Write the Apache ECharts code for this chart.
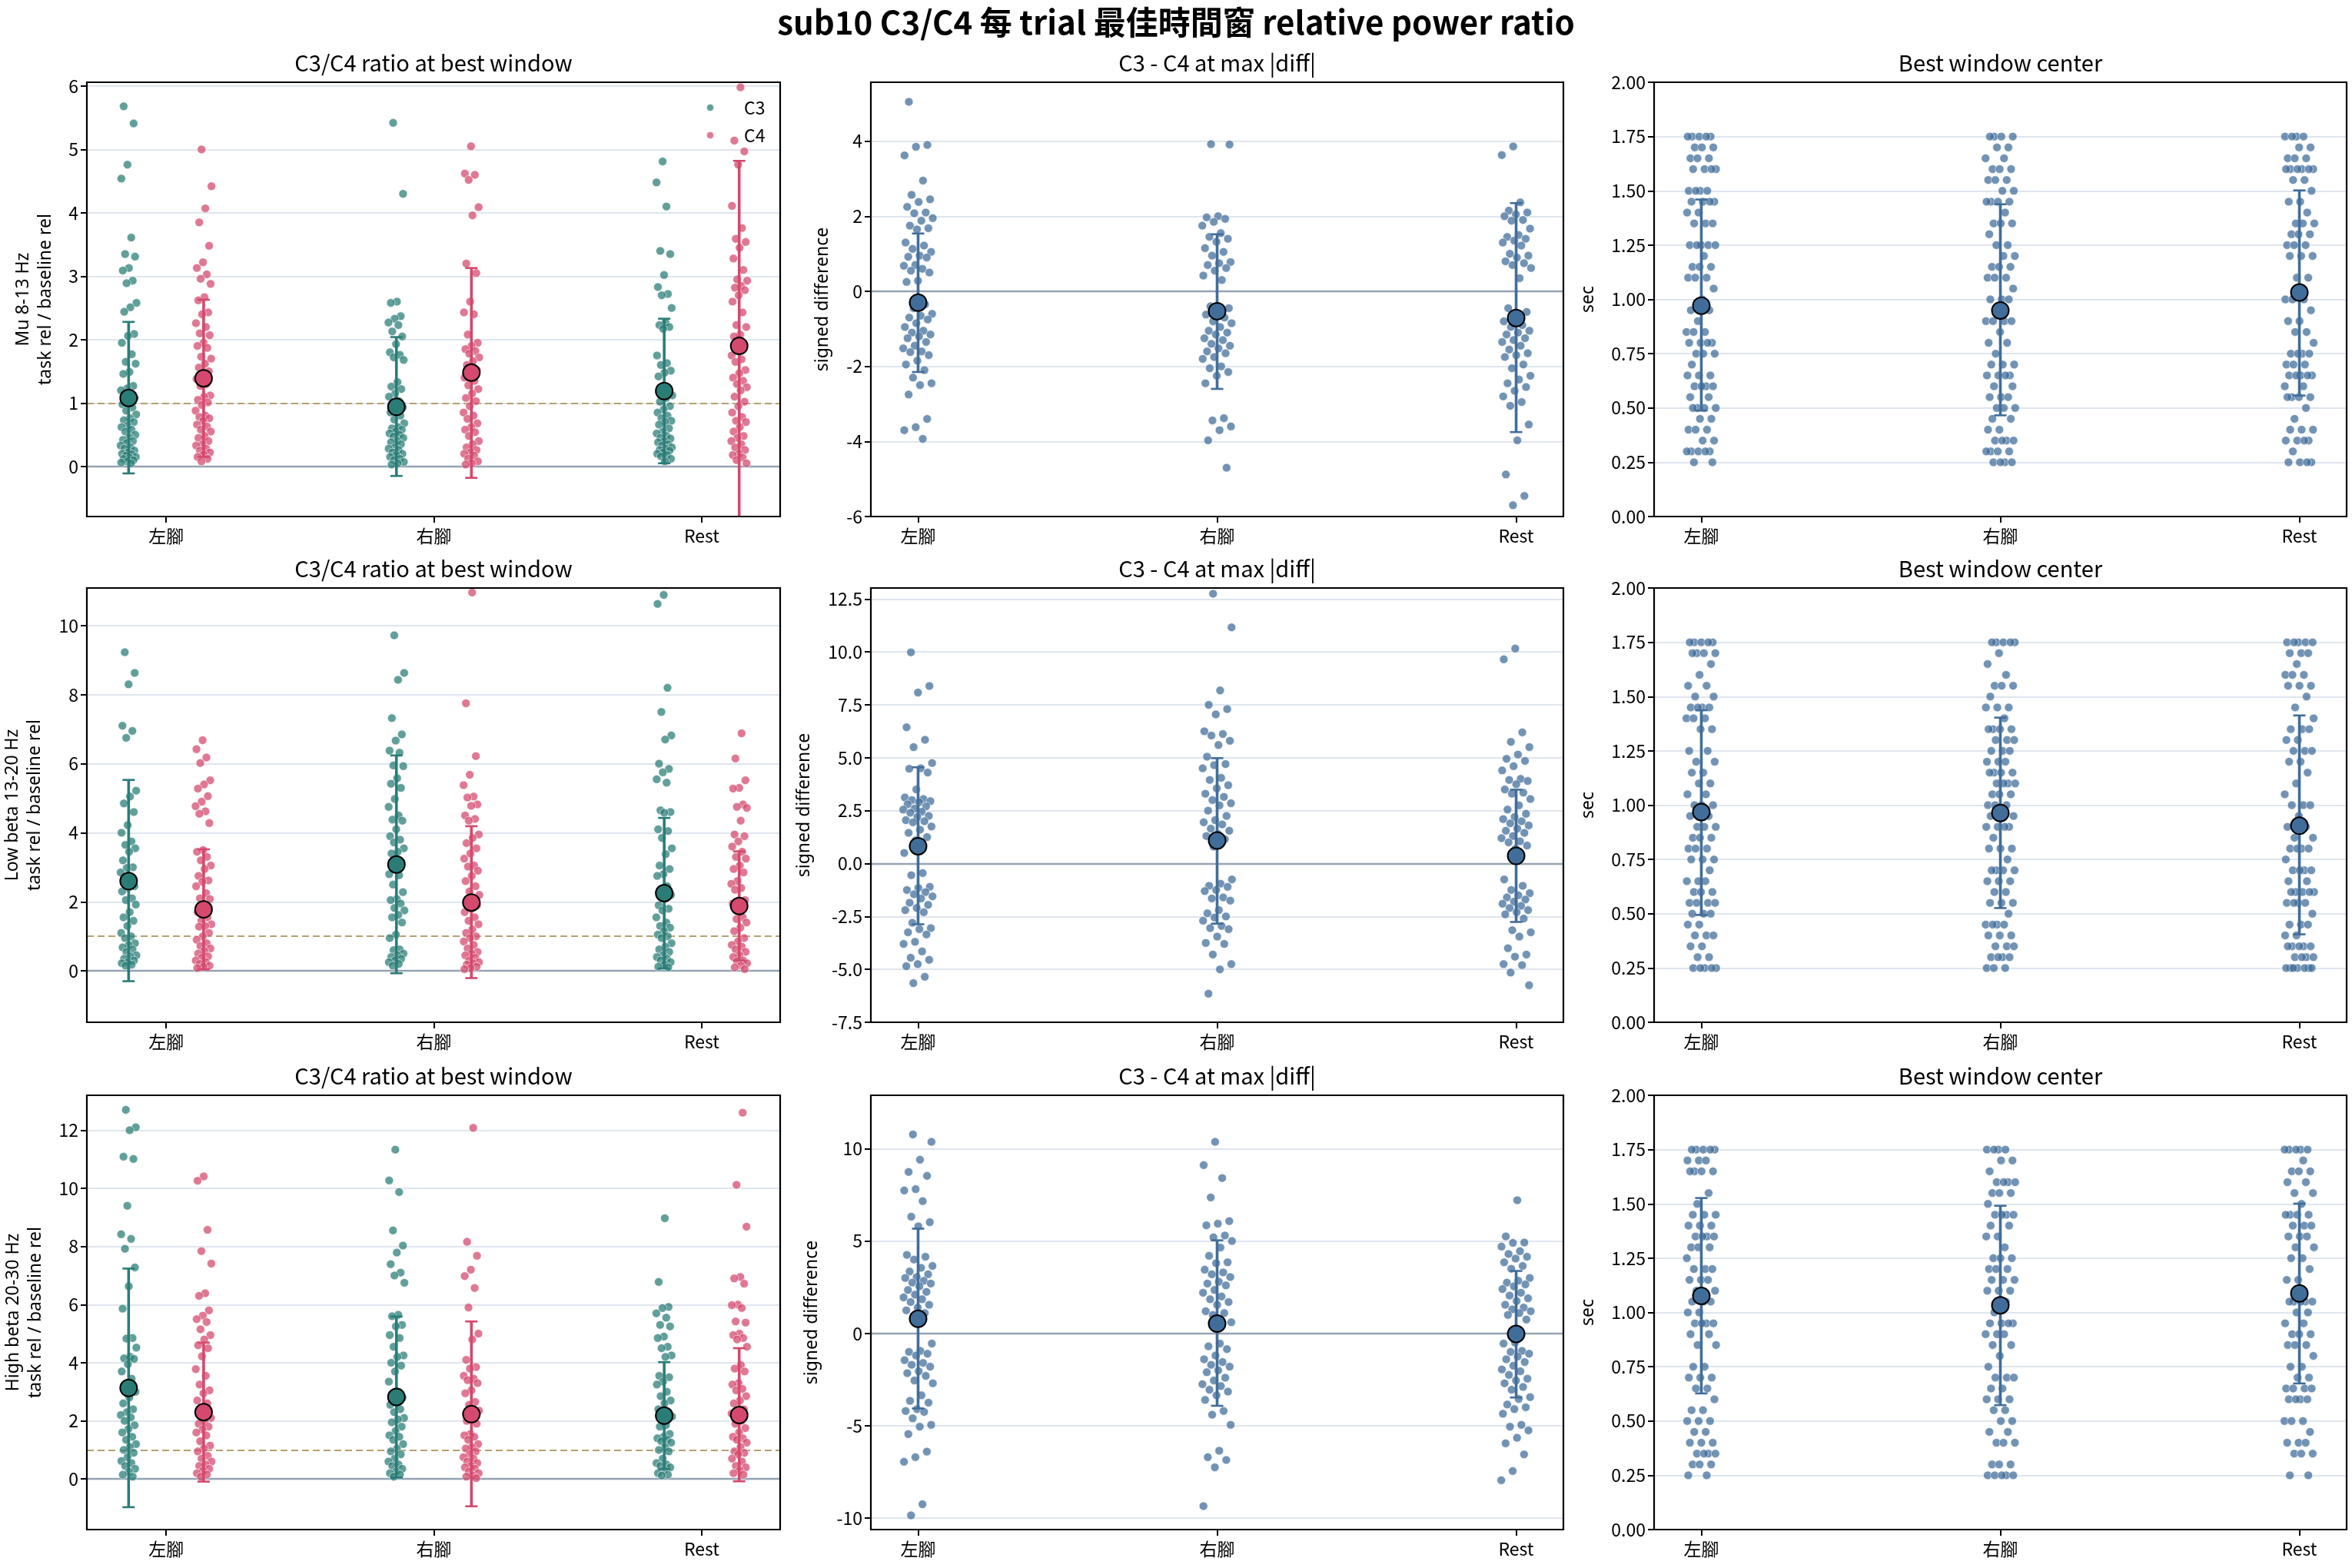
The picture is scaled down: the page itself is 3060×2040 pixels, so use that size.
<!DOCTYPE html>
<html>
<head>
<meta charset="utf-8">
<title>sub10 C3/C4</title>
<script src="https://cdn.jsdelivr.net/npm/echarts@6/dist/echarts.min.js"></script>
<style>
  html, body { margin: 0; padding: 0; background: #fff; }
  #chart { width: 3060px; height: 2040px; }
</style>
</head>
<body>
<div id="chart"></div>
<script>
// 類別與頻帶
const categories = ['左腳', '右腳', 'Rest'];
const bandLabels = ['Mu 8-13 Hz', 'Low beta 13-20 Hz', 'High beta 20-30 Hz'];

// ---- Mu 8-13 Hz：C3/C4 ratio ----
const muC3Left = [5.68,5.41,4.76,4.54,3.61,3.35,3.31,3.13,3.09,2.93,2.89,2.58,2.51,2.44,2.09,2.06,1.95,1.77,1.65,1.62,1.49,1.46,1.27,1.23,1.20,1.15,1.12,1.08,1.02,0.98,0.93,0.88,0.82,0.76,0.73,0.70,0.64,0.62,0.58,0.55,0.50,0.46,0.42,0.40,0.37,0.33,0.30,0.28,0.25,0.22,0.20,0.19,0.17,0.15,0.14,0.12,0.10,0.08,0.06,0.05];
const muC4Left = [5.00,4.42,4.07,3.85,3.48,3.22,3.13,3.03,2.96,2.88,2.67,2.62,2.43,2.40,2.26,2.20,2.10,2.07,1.95,1.90,1.87,1.73,1.70,1.62,1.56,1.50,1.45,1.38,1.30,1.27,1.12,1.10,1.05,1.01,0.97,0.88,0.80,0.78,0.76,0.72,0.66,0.63,0.58,0.55,0.48,0.45,0.40,0.35,0.33,0.28,0.25,0.22,0.19,0.15,0.12,0.08];
const muC3Right = [5.42,4.30,2.60,2.58,2.37,2.33,2.27,2.23,2.13,2.05,1.93,1.80,1.76,1.72,1.68,1.33,1.26,1.22,1.15,1.10,1.03,0.98,0.93,0.90,0.85,0.80,0.74,0.68,0.62,0.60,0.58,0.55,0.52,0.50,0.47,0.45,0.40,0.38,0.35,0.30,0.28,0.26,0.22,0.20,0.18,0.15,0.12,0.10,0.07,0.05,0.03];
const muC4Right = [5.05,4.62,4.60,4.52,4.09,3.96,3.20,3.05,2.60,2.43,2.40,2.08,1.95,1.90,1.85,1.82,1.78,1.72,1.66,1.60,1.52,1.47,1.40,1.35,1.28,1.22,1.15,1.08,1.03,0.95,0.85,0.80,0.75,0.68,0.62,0.58,0.54,0.48,0.40,0.35,0.30,0.26,0.22,0.20,0.17,0.12,0.08,0.05,0.03];
const muC3Rest = [4.81,4.48,4.10,3.40,3.35,3.02,2.83,2.72,2.70,2.50,2.27,2.23,2.20,2.17,1.75,1.63,1.60,1.51,1.48,1.42,1.22,1.18,1.12,1.08,1.02,0.95,0.90,0.85,0.80,0.76,0.72,0.70,0.66,0.60,0.55,0.52,0.48,0.45,0.44,0.40,0.38,0.35,0.33,0.30,0.28,0.26,0.25,0.22,0.20,0.18,0.16,0.12,0.08];
const muC4Rest = [5.98,5.14,4.97,4.76,4.11,3.76,3.59,3.54,3.45,3.28,3.10,2.95,2.93,2.85,2.82,2.78,2.70,2.60,2.43,2.23,2.20,2.08,2.05,1.93,1.88,1.75,1.69,1.65,1.52,1.47,1.40,1.35,1.30,1.25,1.20,1.10,1.02,0.95,0.85,0.78,0.72,0.70,0.62,0.55,0.48,0.45,0.40,0.35,0.30,0.26,0.20,0.18,0.14,0.10,0.05];

// ---- Low beta 13-20 Hz：C3/C4 ratio ----
const lbC3Left = [9.23,8.63,8.30,7.10,6.95,6.75,5.22,5.05,4.85,4.60,4.22,4.00,3.75,3.65,3.55,3.45,3.20,3.00,2.98,2.85,2.65,2.58,2.45,2.40,2.30,2.10,2.05,1.92,1.70,1.55,1.45,1.30,1.10,1.00,0.95,0.80,0.75,0.68,0.62,0.55,0.45,0.42,0.35,0.30,0.25,0.22,0.18,0.15];
const lbC4Left = [6.68,6.42,6.18,6.02,5.52,5.40,5.28,5.06,4.90,4.77,4.62,4.55,4.28,3.50,3.45,3.30,3.20,3.05,2.95,2.75,2.62,2.58,2.45,2.25,2.10,2.08,1.95,1.70,1.55,1.45,1.35,1.30,1.28,1.10,1.00,0.90,0.80,0.72,0.65,0.58,0.50,0.42,0.38,0.30,0.25,0.20,0.15,0.12,0.08];
const lbC3Right = [9.72,8.63,8.43,7.32,6.85,6.67,6.38,6.32,5.95,5.93,5.58,5.42,5.30,4.98,4.75,4.50,4.38,4.35,4.10,3.90,3.80,3.72,3.55,3.45,3.40,3.15,3.00,2.80,2.77,2.50,2.28,2.08,2.05,1.95,1.82,1.75,1.62,1.55,1.40,1.05,0.95,0.62,0.60,0.50,0.45,0.40,0.35,0.30,0.25,0.20,0.15];
const lbC4Right = [10.96,7.75,6.22,5.68,5.38,5.05,5.02,4.82,4.78,4.50,4.40,4.35,3.95,3.85,3.70,3.55,3.40,3.25,3.05,3.02,2.90,2.75,2.60,2.45,2.30,2.20,2.10,2.00,1.90,1.80,1.70,1.55,1.45,1.35,1.20,1.10,1.00,0.95,0.85,0.75,0.65,0.55,0.50,0.45,0.38,0.30,0.25,0.22,0.18,0.12,0.08,0.05];
const lbC3Rest = [10.89,10.63,8.20,7.50,6.82,6.70,6.00,5.85,5.75,5.55,5.45,4.65,4.60,4.58,4.10,4.05,3.85,3.55,3.38,3.05,2.95,2.80,2.75,2.45,2.35,2.20,2.10,1.90,1.80,1.75,1.55,1.40,1.30,1.25,1.15,1.05,1.00,0.95,0.80,0.70,0.62,0.55,0.45,0.40,0.35,0.30,0.25,0.18,0.12,0.10];
const lbC4Rest = [6.88,6.15,5.52,5.30,5.28,4.82,4.75,4.72,4.35,3.95,3.90,3.75,3.60,3.45,3.30,3.25,3.05,2.95,2.85,2.60,2.52,2.40,2.35,2.05,2.00,1.95,1.55,1.50,1.40,1.25,1.15,0.95,0.85,0.75,0.70,0.62,0.55,0.45,0.40,0.30,0.28,0.22,0.15,0.10,0.05];

// ---- High beta 20-30 Hz：C3/C4 ratio ----
const hbC3Left = [12.70,12.10,12.00,11.09,11.01,9.40,8.42,8.26,7.92,7.28,6.63,5.86,4.85,4.83,4.52,4.20,4.15,4.13,3.95,3.70,3.45,3.20,3.00,2.80,2.60,2.40,2.30,2.20,2.12,2.00,1.85,1.72,1.60,1.45,1.35,1.20,1.10,1.00,0.90,0.75,0.62,0.55,0.45,0.35,0.25,0.15,0.08];
const hbC4Left = [10.41,10.26,8.57,7.84,7.41,6.39,6.30,5.80,5.62,5.50,5.40,5.15,4.95,4.80,4.60,4.50,4.22,3.78,3.55,3.25,3.05,2.95,2.70,2.60,2.25,2.10,2.00,1.90,1.80,1.70,1.60,1.50,1.30,1.15,1.05,0.95,0.80,0.70,0.60,0.50,0.45,0.35,0.28,0.20,0.15,0.08];
const hbC3Right = [11.33,10.27,9.87,8.55,8.03,7.79,7.39,7.10,7.00,6.75,5.65,5.60,5.30,5.25,4.95,4.85,4.55,4.25,4.20,4.00,3.90,3.70,3.35,3.00,2.85,2.80,2.65,2.55,2.40,2.30,2.10,2.05,1.95,1.80,1.65,1.50,1.45,1.35,1.20,1.05,0.95,0.85,0.70,0.60,0.50,0.45,0.35,0.25,0.20,0.15,0.08];
const hbC4Right = [12.08,8.16,7.68,7.20,6.98,6.57,5.90,5.00,4.80,4.10,3.85,3.80,3.55,3.45,3.40,3.30,3.05,2.95,2.65,2.55,2.35,2.25,2.00,1.90,1.55,1.50,1.45,1.35,1.20,1.10,1.05,0.95,0.85,0.75,0.70,0.60,0.55,0.45,0.40,0.35,0.25,0.20,0.12,0.08,0.03];
const hbC3Rest = [8.97,6.78,5.92,5.88,5.70,5.55,5.30,5.25,4.90,4.85,4.55,4.50,4.25,4.20,3.55,3.50,3.35,3.25,3.00,2.85,2.70,2.60,2.40,2.30,2.20,2.15,1.85,1.80,1.55,1.45,1.40,1.35,1.30,1.25,1.10,1.00,0.95,0.70,0.55,0.50,0.45,0.40,0.30,0.20,0.15,0.12];
const hbC4Rest = [12.60,10.12,8.68,6.95,6.90,6.72,6.00,5.98,5.88,5.42,5.38,5.00,4.95,4.85,4.80,4.55,3.92,3.80,3.70,3.30,3.25,3.10,3.05,2.85,2.70,2.60,2.40,2.30,2.25,2.00,1.90,1.75,1.60,1.45,1.40,1.35,1.25,1.10,0.95,0.90,0.85,0.70,0.60,0.45,0.40,0.30,0.20,0.15];

// ---- C3 - C4 signed difference ----
const diffMuLeft = [5.05,3.90,3.85,3.62,2.95,2.57,2.45,2.38,2.25,2.10,2.08,1.95,1.88,1.75,1.68,1.65,1.30,1.22,1.13,1.05,0.95,0.92,0.90,0.70,0.68,0.60,0.55,0.50,0.28,0.25,-0.35,-0.45,-0.60,-0.65,-0.70,-0.75,-0.85,-0.95,-1.05,-1.10,-1.15,-1.20,-1.25,-1.35,-1.45,-1.52,-1.60,-1.62,-1.70,-1.85,-1.95,-2.10,-2.30,-2.45,-2.50,-2.75,-3.40,-3.62,-3.70,-3.93];
const diffMuRight = [3.92,3.91,2.00,1.97,1.93,1.85,1.75,1.55,1.45,1.40,1.32,1.15,1.05,0.95,0.78,0.75,0.70,0.62,0.55,0.42,0.30,-0.40,-0.45,-0.55,-0.62,-0.70,-0.80,-0.85,-0.95,-1.05,-1.10,-1.15,-1.25,-1.30,-1.40,-1.45,-1.52,-1.60,-1.65,-1.75,-1.80,-2.00,-2.05,-2.15,-2.25,-2.45,-3.38,-3.44,-3.60,-3.70,-3.97,-4.70];
const diffMuRest = [3.86,3.63,2.37,2.15,2.10,2.05,2.00,1.90,1.88,1.67,1.50,1.45,1.40,1.35,1.30,1.22,1.00,0.95,0.90,0.80,0.75,0.70,0.62,0.35,-0.45,-0.55,-0.65,-0.80,-0.90,-0.95,-1.05,-1.10,-1.15,-1.25,-1.30,-1.35,-1.45,-1.55,-1.65,-1.70,-1.75,-1.95,-2.05,-2.25,-2.35,-2.45,-2.55,-2.65,-2.80,-2.95,-3.05,-3.55,-3.97,-4.88,-5.45,-5.70];
const diffLbLeft = [9.98,8.39,8.08,6.44,5.85,5.50,4.75,4.50,4.48,4.30,3.50,3.12,3.05,3.00,2.95,2.90,2.80,2.70,2.60,2.55,2.45,2.40,2.25,2.20,2.05,2.00,1.95,1.75,1.60,1.45,1.25,1.10,0.50,-0.45,-0.55,-1.10,-1.15,-1.25,-1.35,-1.45,-1.55,-1.65,-1.85,-1.95,-2.10,-2.20,-2.30,-2.80,-3.05,-3.10,-3.25,-3.35,-3.70,-3.80,-4.15,-4.45,-4.55,-4.75,-4.85,-5.35,-5.65];
const diffLbRight = [12.75,11.16,8.18,7.50,7.30,7.05,6.25,6.12,6.05,5.80,5.60,5.05,4.70,4.65,4.50,4.05,3.95,3.70,3.55,3.30,3.15,3.00,2.85,2.75,2.50,2.25,2.05,1.95,1.85,1.65,1.55,1.40,1.30,1.15,0.80,-0.75,-0.95,-1.05,-1.10,-1.25,-1.30,-1.60,-1.65,-1.75,-2.20,-2.35,-2.50,-2.55,-2.70,-2.95,-3.05,-3.10,-3.45,-3.75,-3.80,-4.30,-4.75,-5.00,-6.15,-7.55];
const diffLbRest = [10.16,9.65,6.20,5.75,5.50,5.15,4.95,4.85,4.60,4.40,4.00,3.95,3.90,3.75,3.50,3.35,3.30,3.05,2.75,2.55,2.35,2.20,2.10,2.00,1.90,1.80,1.65,1.55,1.45,1.30,1.20,1.05,1.00,0.85,0.70,-0.75,-1.05,-1.25,-1.40,-1.50,-1.60,-1.70,-1.80,-1.90,-2.00,-2.10,-2.20,-2.30,-2.40,-2.60,-3.15,-3.25,-3.45,-4.00,-4.30,-4.40,-4.75,-4.80,-5.15,-5.75];
const diffHbLeft = [10.77,10.37,9.40,8.74,8.53,7.81,7.74,7.16,6.32,6.02,5.80,4.25,4.15,4.00,3.65,3.55,3.35,3.20,3.05,3.00,2.85,2.75,2.70,2.55,2.35,2.25,2.10,1.95,1.85,1.70,1.55,1.40,1.25,1.10,0.80,-0.55,-0.95,-1.00,-1.10,-1.20,-1.45,-1.60,-1.70,-1.80,-2.05,-2.15,-2.30,-2.55,-2.70,-3.35,-3.65,-3.75,-4.10,-4.20,-4.25,-4.60,-4.95,-5.05,-5.45,-6.40,-6.70,-6.95,-9.25,-9.85];
const diffHbRight = [10.37,9.11,8.41,7.36,6.08,5.94,5.85,5.30,5.20,5.00,4.65,4.20,3.85,3.80,3.45,3.30,3.20,3.05,2.80,2.70,2.60,2.35,2.20,2.00,1.85,1.70,1.55,1.20,1.10,1.00,0.60,-0.55,-0.70,-0.85,-1.20,-1.40,-1.55,-1.70,-1.80,-2.00,-2.10,-2.40,-2.55,-2.75,-2.85,-3.05,-3.15,-3.35,-3.60,-4.20,-4.40,-4.95,-6.35,-6.70,-6.85,-7.25,-9.35];
const diffHbRest = [7.21,5.25,4.92,4.90,4.70,4.45,4.30,4.15,4.05,3.85,3.65,3.50,3.00,2.85,2.75,2.65,2.55,2.40,2.20,2.05,1.90,1.75,1.55,1.40,1.30,1.20,1.10,1.00,0.75,-0.50,-0.55,-0.95,-1.00,-1.10,-1.25,-1.40,-1.55,-1.75,-1.95,-2.05,-2.25,-2.45,-2.55,-2.70,-2.90,-3.05,-3.45,-3.55,-3.85,-4.00,-4.10,-4.35,-4.95,-5.05,-5.25,-5.65,-5.95,-6.55,-7.45,-7.95];

// ---- Best window center (sec) ----
const winMuLeft = [1.75,1.75,1.75,1.75,1.75,1.7,1.7,1.7,1.65,1.65,1.65,1.6,1.6,1.6,1.6,1.5,1.5,1.5,1.5,1.45,1.45,1.45,1.45,1.4,1.4,1.35,1.35,1.35,1.25,1.25,1.25,1.25,1.25,1.2,1.15,1.15,1.15,1.1,1.1,1.1,1.05,1.0,0.95,0.95,0.9,0.85,0.85,0.85,0.8,0.8,0.8,0.8,0.75,0.75,0.75,0.7,0.65,0.65,0.65,0.6,0.6,0.6,0.6,0.55,0.55,0.5,0.5,0.5,0.5,0.45,0.45,0.4,0.4,0.4,0.35,0.35,0.3,0.3,0.3,0.3,0.3,0.25,0.25];
const winMuRight = [1.75,1.75,1.75,1.75,1.7,1.7,1.65,1.65,1.6,1.6,1.6,1.55,1.55,1.55,1.5,1.5,1.45,1.45,1.45,1.45,1.4,1.35,1.35,1.35,1.3,1.25,1.25,1.2,1.2,1.15,1.15,1.15,1.1,1.1,1.1,1.05,1.0,1.0,1.0,0.95,0.9,0.9,0.9,0.9,0.85,0.8,0.8,0.75,0.7,0.7,0.7,0.65,0.65,0.65,0.65,0.6,0.6,0.55,0.55,0.55,0.5,0.5,0.5,0.45,0.45,0.4,0.4,0.35,0.35,0.35,0.35,0.3,0.3,0.3,0.3,0.25,0.25,0.25,0.25];
const winMuRest = [1.75,1.75,1.75,1.75,1.7,1.7,1.65,1.65,1.65,1.6,1.6,1.6,1.6,1.6,1.6,1.55,1.55,1.5,1.45,1.45,1.4,1.35,1.35,1.35,1.3,1.3,1.3,1.25,1.25,1.25,1.2,1.2,1.2,1.1,1.1,1.0,1.0,1.0,0.95,0.9,0.9,0.85,0.85,0.8,0.75,0.75,0.75,0.75,0.7,0.7,0.7,0.65,0.65,0.65,0.65,0.65,0.6,0.6,0.55,0.55,0.55,0.55,0.5,0.45,0.4,0.4,0.4,0.35,0.35,0.35,0.35,0.3,0.25,0.25,0.25,0.25];
const winLbLeft = [1.75,1.75,1.75,1.75,1.75,1.7,1.7,1.7,1.7,1.65,1.6,1.55,1.55,1.5,1.5,1.45,1.45,1.45,1.45,1.4,1.4,1.4,1.35,1.35,1.25,1.25,1.2,1.2,1.15,1.15,1.1,1.1,1.05,1.05,1.0,1.0,1.0,0.95,0.95,0.9,0.9,0.9,0.85,0.85,0.85,0.8,0.8,0.8,0.75,0.75,0.75,0.7,0.65,0.65,0.65,0.6,0.6,0.6,0.55,0.55,0.55,0.55,0.5,0.5,0.5,0.45,0.45,0.4,0.4,0.4,0.35,0.35,0.3,0.3,0.25,0.25,0.25,0.25,0.25];
const winLbRight = [1.75,1.75,1.75,1.75,1.75,1.7,1.65,1.6,1.55,1.55,1.55,1.5,1.45,1.45,1.45,1.4,1.35,1.35,1.35,1.35,1.3,1.3,1.3,1.25,1.25,1.25,1.2,1.2,1.2,1.15,1.15,1.15,1.15,1.1,1.1,1.1,1.1,1.05,1.05,1.05,1.0,1.0,1.0,0.95,0.95,0.95,0.9,0.9,0.9,0.9,0.85,0.8,0.8,0.8,0.75,0.7,0.7,0.7,0.7,0.65,0.65,0.65,0.6,0.6,0.55,0.55,0.55,0.5,0.45,0.45,0.45,0.45,0.4,0.4,0.4,0.35,0.35,0.35,0.3,0.3,0.3,0.3,0.25,0.25,0.25];
const winLbRest = [1.75,1.75,1.75,1.75,1.75,1.7,1.7,1.7,1.65,1.6,1.6,1.6,1.55,1.55,1.55,1.5,1.45,1.4,1.35,1.35,1.35,1.3,1.3,1.25,1.25,1.25,1.2,1.2,1.15,1.1,1.05,1.0,1.0,1.0,0.95,0.9,0.9,0.85,0.85,0.8,0.8,0.8,0.8,0.75,0.7,0.7,0.7,0.7,0.65,0.65,0.6,0.6,0.6,0.6,0.6,0.55,0.55,0.55,0.55,0.5,0.45,0.45,0.45,0.4,0.4,0.35,0.35,0.35,0.35,0.35,0.3,0.3,0.3,0.3,0.25,0.25,0.25,0.25,0.25,0.25,0.25];
const winHbLeft = [1.75,1.75,1.75,1.75,1.75,1.7,1.7,1.7,1.65,1.65,1.65,1.65,1.55,1.5,1.45,1.45,1.45,1.4,1.4,1.4,1.35,1.35,1.35,1.35,1.3,1.3,1.3,1.25,1.2,1.2,1.2,1.15,1.15,1.15,1.1,1.1,1.05,1.05,1.05,1.0,1.0,0.95,0.95,0.95,0.95,0.9,0.9,0.85,0.85,0.75,0.75,0.7,0.7,0.7,0.65,0.65,0.6,0.55,0.55,0.5,0.5,0.5,0.45,0.45,0.4,0.4,0.4,0.35,0.35,0.35,0.35,0.3,0.3,0.3,0.25,0.25];
const winHbRight = [1.75,1.75,1.75,1.75,1.7,1.7,1.65,1.6,1.6,1.6,1.6,1.55,1.55,1.55,1.5,1.45,1.45,1.45,1.45,1.4,1.4,1.35,1.35,1.3,1.25,1.25,1.25,1.2,1.2,1.2,1.15,1.15,1.15,1.1,1.1,1.1,1.05,1.0,0.95,0.95,0.95,0.95,0.9,0.9,0.9,0.85,0.85,0.8,0.75,0.7,0.7,0.7,0.65,0.65,0.6,0.6,0.6,0.55,0.55,0.5,0.5,0.45,0.45,0.4,0.4,0.4,0.3,0.3,0.3,0.25,0.25,0.25,0.25,0.25];
const winHbRest = [1.75,1.75,1.75,1.75,1.75,1.7,1.65,1.65,1.65,1.6,1.6,1.55,1.55,1.5,1.45,1.45,1.45,1.45,1.4,1.4,1.4,1.35,1.35,1.35,1.3,1.3,1.25,1.25,1.2,1.15,1.15,1.05,1.05,1.05,1.05,1.05,1.0,1.0,0.95,0.95,0.9,0.9,0.9,0.85,0.85,0.85,0.8,0.75,0.75,0.7,0.7,0.65,0.65,0.65,0.65,0.6,0.6,0.6,0.6,0.5,0.5,0.5,0.45,0.4,0.4,0.4,0.35,0.35,0.35,0.25,0.25];

// 平均與 ±SD (列 = 頻帶, 欄 = 類別)
const ratioMeanC3 = [[1.08,0.94,1.19],[2.60,3.08,2.25],[3.13,2.82,2.18]];
const ratioLowC3  = [[-0.11,-0.15,0.05],[-0.30,-0.07,0.07],[-0.97,0.05,0.34]];
const ratioHighC3 = [[2.28,2.04,2.33],[5.53,6.24,4.43],[7.24,5.59,4.02]];
const ratioMeanC4 = [[1.39,1.48,1.90],[1.78,1.98,1.88],[2.30,2.23,2.20]];
const ratioLowC4  = [[0.15,-0.18,-1.02],[0.04,-0.21,0.30],[-0.09,-0.94,-0.08]];
const ratioHighC4 = [[2.63,3.13,4.82],[3.52,4.19,3.46],[4.69,5.42,4.50]];
const diffMean = [[-0.30,-0.53,-0.71],[0.82,1.09,0.36],[0.79,0.53,-0.03]];
const diffLow  = [[-2.15,-2.60,-3.75],[-2.87,-2.84,-2.76],[-4.06,-3.92,-3.47]];
const diffHigh = [[1.54,1.52,2.35],[4.55,4.98,3.49],[5.67,5.04,3.38]];
const winMean = [[0.971,0.949,1.032],[0.968,0.964,0.905],[1.076,1.033,1.088]];
const winLow  = [[0.488,0.466,0.557],[0.494,0.526,0.405],[0.627,0.573,0.673]];
const winHigh = [[1.460,1.438,1.502],[1.437,1.403,1.413],[1.527,1.491,1.501]];

// 刻度
const ratioTicks = [[0,1,2,3,4,5,6],[0,2,4,6,8,10],[0,2,4,6,8,10,12]];
const diffTicks = [[-6,-4,-2,0,2,4],[-7.5,-5,-2.5,0,2.5,5,7.5,10,12.5],[-10,-5,0,5,10]];
const winTicks = [0,0.25,0.5,0.75,1,1.25,1.5,1.75,2];

const ratioC3 = [[muC3Left,muC3Right,muC3Rest],[lbC3Left,lbC3Right,lbC3Rest],[hbC3Left,hbC3Right,hbC3Rest]];
const ratioC4 = [[muC4Left,muC4Right,muC4Rest],[lbC4Left,lbC4Right,lbC4Rest],[hbC4Left,hbC4Right,hbC4Rest]];
const diffData = [[diffMuLeft,diffMuRight,diffMuRest],[diffLbLeft,diffLbRight,diffLbRest],[diffHbLeft,diffHbRight,diffHbRest]];
const winData = [[winMuLeft,winMuRight,winMuRest],[winLbLeft,winLbRight,winLbRest],[winHbLeft,winHbRight,winHbRest]];

// ---- 版面 ----
const colorC3 = '#2a7d77', colorC4 = '#d4496d', colorBlue = '#416d9a';
const CJK = '"Noto Sans CJK TC", "Noto Sans CJK SC", sans-serif';
const gridLeft = [113, 1133, 2152];
const gridWidth = [902, 901, 901];
const gridTop = [107, 765, 1425];
const gridHeight = 565;
const xRange = [[-0.296, 2.293], [-0.158, 2.158], [-0.158, 2.158]];
const ratioRange = [[-0.79, 6.06], [-1.49, 11.09], [-1.74, 13.2]];
const diffRange = [[-6, 5.57], [-7.5, 13.02], [-10.62, 12.89]];
const ratioSplit = [7, 6, 7];
const diffInterval = [2, 2.5, null];
const ylabelX = [[45, 1070, 2066], [31, 1046, 2066], [32, 1056, 2066]];
const titles = ['C3/C4 ratio at best window', 'C3 - C4 at max |diff|', 'Best window center'];

function jitter(i, seed, w) {
  const f = ((i + seed) * 0.6180339887) % 1;
  return (2 * f - 1) * w;
}

function errRender(params, api) {
  const x = api.value(0);
  const a = api.coord([x, api.value(1)]);
  const b = api.coord([x, api.value(2)]);
  const c = api.visual('color');
  const cap = 8;
  return {
    type: 'group',
    children: [
      { type: 'line', shape: { x1: a[0], y1: a[1], x2: b[0], y2: b[1] }, style: { stroke: c, lineWidth: 3.6 } },
      { type: 'line', shape: { x1: a[0] - cap, y1: a[1], x2: a[0] + cap, y2: a[1] }, style: { stroke: c, lineWidth: 2.6 } },
      { type: 'line', shape: { x1: b[0] - cap, y1: b[1], x2: b[0] + cap, y2: b[1] }, style: { stroke: c, lineWidth: 2.6 } }
    ]
  };
}

function nearTick(v, ticks) {
  return ticks.find(t => Math.abs(t - v) < 1e-6);
}

const grids = [], xAxes = [], yAxes = [], series = [], graphics = [];

for (let r = 0; r < 3; r++) {
  for (let c = 0; c < 3; c++) {
    const idx = r * 3 + c;
    grids.push({
      left: gridLeft[c], top: gridTop[r], width: gridWidth[c], height: gridHeight,
      containLabel: false, outerBoundsMode: 'none', show: false
    });
    xAxes.push({
      gridIndex: idx, type: 'value', min: xRange[c][0], max: xRange[c][1], splitNumber: 3,
      splitLine: { show: false }, axisLine: { show: false, onZero: false },
      axisTick: { show: true, length: 8, lineStyle: { color: '#000', width: 2 }, customValues: [0, 1, 2] },
      axisLabel: {
        customValues: [0, 1, 2], margin: 14, fontSize: 23, color: '#000', fontFamily: CJK,
        formatter: v => { const t = nearTick(v, [0, 1, 2]); return t === undefined ? '' : categories[t]; }
      }
    });

    let ticks, range, decimals, yOpt = {};
    if (c === 0) {
      ticks = ratioTicks[r]; range = ratioRange[r]; decimals = 0; yOpt.splitNumber = ratioSplit[r];
    } else if (c === 1) {
      ticks = diffTicks[r]; range = diffRange[r]; decimals = r === 1 ? 1 : 0;
      if (diffInterval[r]) yOpt.interval = diffInterval[r]; else yOpt.splitNumber = 5;
    } else {
      ticks = winTicks; range = [0, 2]; decimals = 2; yOpt.interval = 0.25;
    }
    yAxes.push(Object.assign({
      gridIndex: idx, type: 'value', min: range[0], max: range[1],
      splitLine: { show: false }, axisLine: { show: false, onZero: false },
      axisTick: { show: true, length: 8, lineStyle: { color: '#000', width: 2 }, customValues: ticks },
      axisLabel: {
        customValues: ticks, margin: 11, fontSize: 23, color: '#000', fontFamily: CJK,
        formatter: v => { const t = nearTick(v, ticks); return t === undefined ? '' : t.toFixed(decimals); }
      }
    }, yOpt));

    // 格線與參考線
    const mlData = ticks.map(t => ({ yAxis: t, lineStyle: { color: '#dfe5ee', width: 1.8, type: 'solid' } }));
    if (c < 2) mlData.push({ yAxis: 0, lineStyle: { color: '#94a3b4', width: 2.4, type: 'solid' } });
    if (c === 0) mlData.push({ yAxis: 1, lineStyle: { color: '#b5a06f', width: 2, type: [9, 5] } });
    const markLine = { silent: true, symbol: ['none', 'none'], label: { show: false }, z: 1, animation: false, data: mlData };

    const groups = c === 0
      ? [
          { name: 'C3', color: colorC3, data: ratioC3[r], mean: ratioMeanC3[r], lo: ratioLowC3[r], hi: ratioHighC3[r], dodge: -0.14 },
          { name: 'C4', color: colorC4, data: ratioC4[r], mean: ratioMeanC4[r], lo: ratioLowC4[r], hi: ratioHighC4[r], dodge: 0.14 }
        ]
      : c === 1
        ? [{ name: 'diff', color: colorBlue, data: diffData[r], mean: diffMean[r], lo: diffLow[r], hi: diffHigh[r], dodge: 0 }]
        : [{ name: 'center', color: colorBlue, data: winData[r], mean: winMean[r], lo: winLow[r], hi: winHigh[r], dodge: 0 }];
    const jw = c === 0 ? 0.03 : 0.05;

    groups.forEach((g, gi) => {
      const pts = [];
      g.data.forEach((vals, k) => {
        vals.forEach((v, i) => pts.push([k + g.dodge + jitter(i, 0.31 + k * 0.17 + gi * 0.29 + r * 0.11, jw), v]));
      });
      const s = {
        name: g.name, type: 'scatter', xAxisIndex: idx, yAxisIndex: idx, z: 2, clip: true,
        symbol: 'circle', symbolSize: 11,
        itemStyle: { color: g.color, opacity: 0.74, borderColor: '#fff', borderWidth: 0.8 },
        data: pts
      };
      if (gi === 0) s.markLine = markLine;
      series.push(s);
      series.push({
        name: g.name + ' sd', type: 'custom', xAxisIndex: idx, yAxisIndex: idx, z: 3, clip: true,
        itemStyle: { color: g.color }, renderItem: errRender,
        encode: { x: 0, y: [1, 2] },
        data: g.mean.map((m, k) => [k + g.dodge, g.lo[k], g.hi[k]])
      });
      series.push({
        name: g.name + ' mean', type: 'scatter', xAxisIndex: idx, yAxisIndex: idx, z: 4, clip: true,
        symbol: 'circle', symbolSize: 22,
        itemStyle: { color: g.color, opacity: 1, borderColor: '#000', borderWidth: 2 },
        data: g.mean.map((m, k) => [k + g.dodge, m])
      });
    });

    // 外框 (在最上層)
    graphics.push({
      type: 'rect', silent: true, z: 100,
      shape: { x: gridLeft[c], y: gridTop[r], width: gridWidth[c], height: gridHeight },
      style: { fill: 'none', stroke: '#000', lineWidth: 2.2 }
    });
    // 子圖標題
    graphics.push({
      type: 'text', x: gridLeft[c] + gridWidth[c] / 2, y: gridTop[r] - 25,
      style: { text: titles[c], fontSize: 29, fontFamily: CJK, fill: '#000', align: 'center', verticalAlign: 'middle' }
    });
    // y 軸標籤
    const ytext = c === 0 ? bandLabels[r] + '\ntask rel / baseline rel' : (c === 1 ? 'signed difference' : 'sec');
    graphics.push({
      type: 'text', x: ylabelX[r][c], y: gridTop[r] + gridHeight / 2, rotation: Math.PI / 2,
      style: { text: ytext, fontSize: 23, lineHeight: 29, fontFamily: '"Noto Sans", sans-serif', fill: '#000', align: 'center', verticalAlign: 'middle' }
    });
  }
}

graphics.push({
  type: 'text', x: 1530, y: 29,
  style: { text: 'sub10 C3/C4 每 trial 最佳時間窗 relative power ratio', fontSize: 42, fontWeight: 'bold', fontFamily: CJK, fill: '#000', align: 'center', verticalAlign: 'middle' }
});

const chart = echarts.init(document.getElementById('chart'), null, { renderer: 'canvas' });
chart.setOption({
  animation: false,
  backgroundColor: '#fff',
  grid: grids,
  xAxis: xAxes,
  yAxis: yAxes,
  legend: {
    data: ['C3', 'C4'], orient: 'vertical', left: 913, top: 123,
    itemWidth: 78, itemHeight: 10, itemGap: 12, icon: 'circle', selectedMode: false,
    textStyle: { fontSize: 23, fontFamily: CJK, color: '#000', lineHeight: 24 }
  },
  graphic: graphics,
  series: series
});
</script>
</body>
</html>
